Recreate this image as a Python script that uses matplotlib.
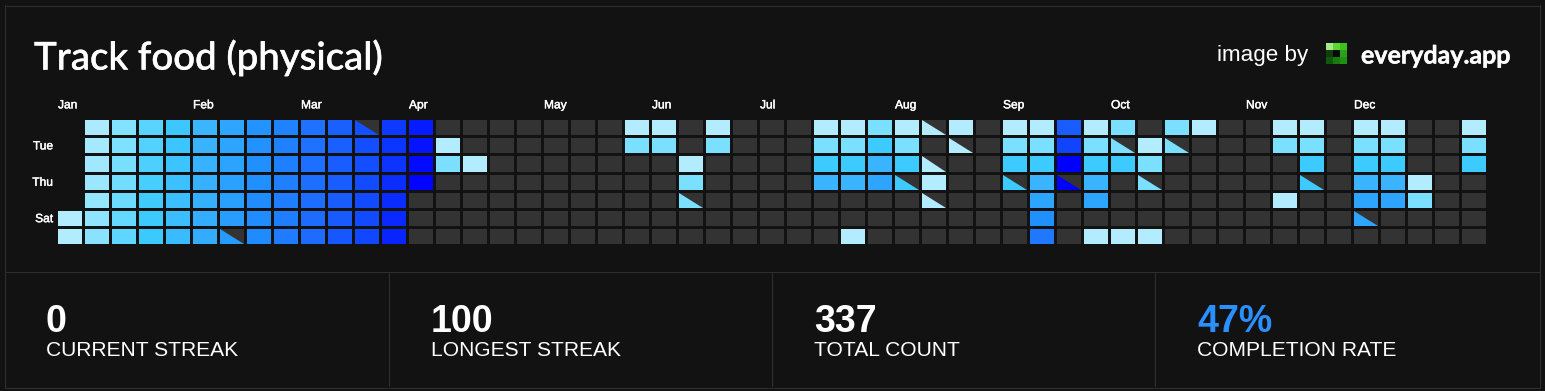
import matplotlib
matplotlib.use("Agg")
import matplotlib.pyplot as plt
import matplotlib.patheffects as pe
from matplotlib.colors import LinearSegmentedColormap
from matplotlib.lines import Line2D
from matplotlib.patches import Rectangle, Polygon

W, H = 1545, 391
BG = "#121212"
EMPTY = "#333333"
LINE = "#2e2e2e"

title = "Track food (physical)"
months = ["Jan", "Feb", "Mar", "Apr", "May", "Jun", "Jul", "Aug", "Sep", "Oct", "Nov", "Dec"]
month_weeks = [0, 5, 9, 13, 18, 22, 26, 31, 35, 39, 44, 48]
day_labels = ["Tue", "Thu", "Sat"]
day_rows = [1, 3, 5]
stat_values = ["0", "100", "337", "47%"]
stat_labels = ["CURRENT STREAK", "LONGEST STREAK", "TOTAL COUNT", "COMPLETION RATE"]
stat_colors = ["white", "white", "white", "#2A90FF"]
stat_x = [45.5, 431, 814.5, 1197]
palette = ["#b3ecff", "#7ae0ff", "#3ccaff", "#3ab4ff", "#2da5ff",
           "#2090ff", "#1f78ff", "#1a5eff", "#1045ff", "#0000ff"]
logo_colors = [["#a4e88c", "#58d830", "#3cc020"],
               ["#143c10", "#040a04", "#2ca018"],
               ["#0f5a0a", "#1a7a10", "#209010"]]

# one list per week (Sun..Sat rows); None = before the year starts, 0 = nothing logged
weeks = [
    [None, None, None, None, None, 1.0, 1.05],
    [1.15, 1.25, 1.35, 1.45, 1.55, 1.65, 1.75],
    [1.85, 1.95, 2.05, 2.15, 2.25, 2.35, 2.45],
    [2.55, 2.65, 2.75, 2.85, 2.95, 3.0, 3.05],
    [3.1, 3.2, 3.3, 3.4, 3.5, 3.6, 3.7],
    [3.95, 4.05, 4.15, 4.25, 4.35, 4.45, 4.55],
    [4.95, 5.0, 5.1, 5.2, 5.3, 5.4, 5.5],
    [5.85, 5.9, 6.0, 6.05, 6.1, 6.15, 6.2],
    [6.55, 6.6, 6.65, 6.7, 6.75, 6.8, 6.85],
    [7.2, 7.25, 7.3, 7.35, 7.4, 7.45, 7.5],
    [7.9, 7.95, 8.0, 8.05, 8.1, 8.15, 8.25],
    [8.55, 8.6, 8.65, 8.7, 8.75, 8.8, 8.9],
    [9.15, 9.2, 9.25, 9.3, 9.35, 9.4, 9.45],
    [9.6, 9.7, 9.85, 9.95, 0, 0, 0],
    [0, 1, 2, 0, 0, 0, 0],
    [0, 0, 1, 0, 0, 0, 0],
    [0, 0, 0, 0, 0, 0, 0],
    [0, 0, 0, 0, 0, 0, 0],
    [0, 0, 0, 0, 0, 0, 0],
    [0, 0, 0, 0, 0, 0, 0],
    [0, 0, 0, 0, 0, 0, 0],
    [1, 2, 0, 0, 0, 0, 0],
    [1, 2, 0, 0, 0, 0, 0],
    [0, 0, 1, 2, 2, 0, 0],
    [1, 2, 0, 0, 0, 0, 0],
    [0, 0, 0, 0, 0, 0, 0],
    [0, 0, 0, 0, 0, 0, 0],
    [0, 0, 0, 0, 0, 0, 0],
    [1, 2, 3, 4, 0, 0, 0],
    [1, 2, 3, 4, 0, 0, 1],
    [2, 3, 4, 5, 0, 0, 0],
    [1, 2, 3, 3, 0, 0, 0],
    [1, 0, 1, 1, 1, 0, 0],
    [1, 1, 0, 0, 0, 0, 0],
    [0, 0, 0, 0, 0, 0, 0],
    [1, 2, 3, 3, 0, 0, 0],
    [1, 2, 3, 4, 5, 6, 7],
    [8, 9, 10, 10, 0, 0, 0],
    [1, 2, 3, 4, 5, 0, 1],
    [2, 2, 3, 0, 0, 0, 1],
    [0, 1, 2, 2, 0, 0, 1],
    [2, 2, 0, 0, 0, 0, 0],
    [1, 0, 0, 0, 0, 0, 0],
    [0, 0, 0, 0, 0, 0, 0],
    [0, 0, 0, 0, 0, 0, 0],
    [1, 2, 0, 0, 1, 0, 0],
    [1, 2, 3, 3, 0, 0, 0],
    [0, 0, 0, 0, 0, 0, 0],
    [1, 2, 3, 4, 5, 5, 0],
    [1, 2, 3, 4, 5, 0, 0],
    [0, 0, 0, 1, 2, 0, 0],
    [0, 0, 0, 0, 0, 0, 0],
    [1, 2, 3, 0, 0, 0, 0],
]
# (week, row) of partly completed days, drawn as a triangle
half_days = [(11, 0), (6, 6), (23, 4), (31, 3), (32, 0), (32, 2), (32, 4), (33, 1),
             (35, 3), (37, 3), (39, 1), (40, 3), (41, 1), (46, 3), (48, 5)]

plt.rcParams["font.family"] = ["Liberation Sans", "DejaVu Sans"]
fig = plt.figure(figsize=(W / 100, H / 100), dpi=100, facecolor=BG)


def fx(px):
    return px / W


def fy(py):
    return 1 - py / H


def pt(px):
    return px * 0.72


def hline(x0, x1, y):
    fig.add_artist(Line2D([fx(x0), fx(x1)], [fy(y), fy(y)], color=LINE, lw=0.8))


def vline(x, y0, y1):
    fig.add_artist(Line2D([fx(x), fx(x)], [fy(y0), fy(y1)], color=LINE, lw=0.8))


# panel frame and dividers
hline(5, 1540, 5.5)
hline(5, 1540, 387.5)
vline(4.5, 5, 388)
vline(1539.5, 5, 388)
hline(6, 1539, 271.5)
for vx in (388.5, 771.5, 1154.5):
    vline(vx, 273, 386)

# heatmap
CELL_W, PITCH_X = 24, 27
CELL_H, PITCH_Y = 15.3, 18.17
gl, gr, gt, gb = 58, 1486, 120, 244.4
ax = fig.add_axes([fx(gl), fy(gb), fx(gr - gl), (gb - gt) / H])
ax.set_facecolor(BG)
cw, ch = CELL_W / PITCH_X, CELL_H / PITCH_Y
ax.set_xlim(0, len(weeks) - 1 + cw)
ax.set_ylim(6 + ch, 0)
cmap = LinearSegmentedColormap.from_list("streak", palette)
for spine in ax.spines.values():
    spine.set_visible(False)

for w, col in enumerate(weeks):
    for d, v in enumerate(col):
        if v is None:
            continue
        if v == 0:
            ax.add_patch(Rectangle((w, d), cw, ch, fc=EMPTY, lw=0, snap=True, clip_on=False))
            continue
        color = cmap((v - 1) / 9)
        if (w, d) in half_days:
            ax.add_patch(Rectangle((w, d), cw, ch, fc=EMPTY, lw=0, snap=True, clip_on=False))
            ax.add_patch(Polygon([(w, d), (w, d + ch), (w + cw, d + ch)], closed=True,
                                 fc=color, lw=0, clip_on=False))
        else:
            ax.add_patch(Rectangle((w, d), cw, ch, fc=color, lw=0, snap=True, clip_on=False))

thin = [pe.withStroke(linewidth=0.3, foreground="white")]

ax.xaxis.tick_top()
ax.set_xticks(month_weeks, months, fontsize=pt(12), color="white", ha="left")
ax.set_yticks([r + ch / 2 - 0.05 for r in day_rows], day_labels, fontsize=pt(12), color="white")
ax.tick_params(axis="y", length=0, pad=3.5)
ax.tick_params(axis="x", length=0, pad=6.2)
for lab in ax.get_xticklabels() + ax.get_yticklabels():
    lab.set_path_effects(thin)

# header
t = fig.text(fx(34), fy(58), title, color="white", fontsize=pt(38.4), family="Lato",
             fontweight="medium", va="center", ha="left")
t.set_path_effects(thin)
fig.text(fx(1217), fy(55), "image by", color="white", fontsize=pt(22.4), va="center", ha="left")
t = fig.text(fx(1361), fy(56), "everyday.app", color="white", fontsize=pt(25), family="Lato",
             fontweight="bold", va="center", ha="left")
t.set_path_effects(thin)

# logo
lax = fig.add_axes([fx(1326), fy(64), fx(21), 21 / H])
lax.set_axis_off()
lax.set_xlim(0, 3)
lax.set_ylim(3, 0)
for r, row in enumerate(logo_colors):
    for c, color in enumerate(row):
        lax.add_patch(Rectangle((c, r), 1, 1, fc=color, lw=0))

# stats
for x, val, lab, col in zip(stat_x, stat_values, stat_labels, stat_colors):
    fig.text(fx(x), fy(332), val, color=col, fontsize=pt(37.6), fontweight="bold", va="baseline", ha="left")
    fig.text(fx(x), fy(356), lab, color="white", fontsize=pt(21), va="baseline", ha="left")

fig.savefig("out.png", dpi=100, facecolor=BG)
